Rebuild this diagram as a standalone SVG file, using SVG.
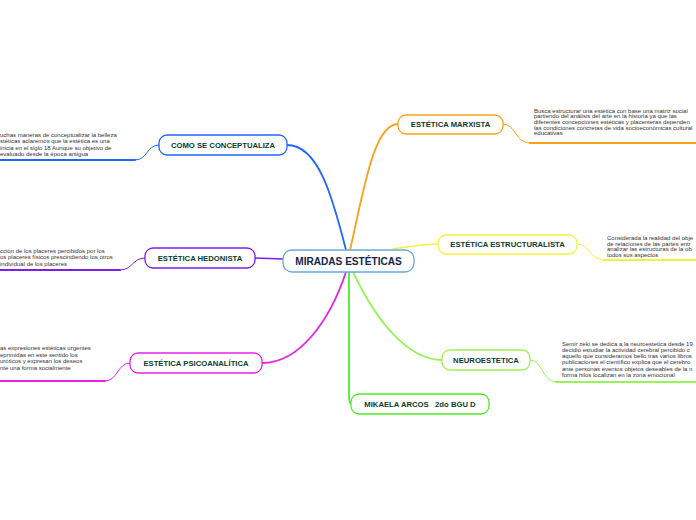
<svg xmlns="http://www.w3.org/2000/svg" width="696" height="520" viewBox="0 0 696 520">
<style>
.lbl{font-family:"Liberation Sans",Arial,sans-serif;font-weight:bold;font-size:7.7px;fill:#0d3b2e;text-anchor:middle}
.main{font-family:"Liberation Sans",Arial,sans-serif;font-weight:bold;font-size:10.1px;fill:#13254a;text-anchor:middle}
.note{font-family:"Liberation Sans",Arial,sans-serif;font-size:6px;fill:#333}
.box{fill:#fff;stroke-width:1.3}
.c{fill:none;stroke-linecap:round}
</style>
<rect width="696" height="520" fill="#fff"/>
<g id="connectors">
<path class="c" d="M346,250 C332,195 318,145 287,145" stroke="#2266ff" stroke-width="1.8"/>
<path class="c" d="M350,250 C363,195 373,124 398,124" stroke="#f7a21b" stroke-width="1.8"/>
<path class="c" d="M346,272 C330,320 300,363 262,363" stroke="#e424e4" stroke-width="1.8"/>
<path class="c" d="M353,272 C378,325 410,360 442,360" stroke="#9af25a" stroke-width="1.8"/>
<path class="c" d="M349,272 L349,396 Q349,404 352,404" stroke="#4cef2c" stroke-width="1.8"/>
<path class="c" d="M393,249 C410,247 422,244 438,244" stroke="#f2f23a" stroke-width="1.5"/>
<path class="c" d="M283,259 L255,258" stroke="#7a1fe8" stroke-width="1.5"/>
<path class="c" d="M0,160 L135,160" stroke="#2266ff" stroke-width="2"/>
<path class="c" d="M135,160 C148,160 146,145 159,145" stroke="#2266ff" stroke-width="1"/>
<path class="c" d="M0,270 L120,270" stroke="#7a1fe8" stroke-width="2"/>
<path class="c" d="M120,270 C133,270 132,258 145,258" stroke="#7a1fe8" stroke-width="1"/>
<path class="c" d="M0,381 L105,381" stroke="#e424e4" stroke-width="2"/>
<path class="c" d="M105,381 C118,381 117,363 130,363" stroke="#e424e4" stroke-width="1"/>
<path class="c" d="M503,124 C516,124 515,143 530,143" stroke="#f7a21b" stroke-width="1"/>
<path class="c" d="M530,143 L696,143" stroke="#f7a21b" stroke-width="2"/>
<path class="c" d="M577,244 C590,244 590,260 604,260" stroke="#f2f23a" stroke-width="1"/>
<path class="c" d="M604,260 L696,260" stroke="#f2f23a" stroke-width="2"/>
<path class="c" d="M530,360 C543,360 542,382 556,382" stroke="#9af25a" stroke-width="1"/>
<path class="c" d="M556,382 L696,382" stroke="#9af25a" stroke-width="2"/>
</g>
<g id="central">
<rect class="box" x="283" y="250" width="131" height="22" rx="9" stroke="#6aa8e0" stroke-width="1.6"/>
<text class="main" x="348.5" y="264.5">MIRADAS ESTÉTICAS</text>
</g>
<g id="como">
<rect class="box" x="159" y="135" width="128" height="20" rx="8" stroke="#2266ff"/>
<text class="lbl" x="223" y="147.8">COMO SE CONCEPTUALIZA</text>
<text class="note" x="0" y="137">uchas maneras de conceptualizar la belleza</text>
<text class="note" x="0" y="143.3">stéticas aclaremos que la estética es una</text>
<text class="note" x="0" y="149.6"> inicia en el siglo 18 Aunque su objetivo de</text>
<text class="note" x="0" y="155.9">evaluado desde la época antigua</text>
</g>
<g id="hedonista">
<rect class="box" x="145" y="248" width="110" height="20" rx="8" stroke="#7a1fe8"/>
<text class="lbl" x="200" y="260.8">ESTÉTICA HEDONISTA</text>
<text class="note" x="0" y="253">cción de los placeres percibidos por los</text>
<text class="note" x="0" y="259.3">os placeres físicos prescindiendo los otros</text>
<text class="note" x="0" y="265.6"> individual de los placeres</text>
</g>
<g id="psicoanalitica">
<rect class="box" x="130" y="353" width="132" height="20" rx="8" stroke="#e424e4"/>
<text class="lbl" x="196" y="365.8">ESTÉTICA PSICOANALÍTICA</text>
<text class="note" x="0" y="350">as expresiones estéticas urgentes</text>
<text class="note" x="0" y="356.5">eprimidas en este sentido los</text>
<text class="note" x="0" y="363">uróticos y expresan los deseos</text>
<text class="note" x="0" y="369.5">nte una forma socialmente</text>
</g>
<g id="marxista">
<rect class="box" x="398" y="115" width="105" height="19" rx="8" stroke="#f7a21b"/>
<text class="lbl" x="450.5" y="127.3">ESTÉTICA MARXISTA</text>
<text class="note" x="534" y="112.5">Busca estructurar una estética con base una matriz social</text>
<text class="note" x="534" y="118.2">partiendo del análisis del arte en la historia ya que las</text>
<text class="note" x="534" y="123.9">diferentes concepciones estéticas y placenteras dependen</text>
<text class="note" x="534" y="129.6">las condiciones concretas de vida socioeconómicas cultural</text>
<text class="note" x="534" y="135.3">educativas</text>
</g>
<g id="estructuralista">
<rect class="box" x="438" y="235" width="139" height="19" rx="8" stroke="#f2f23a"/>
<text class="lbl" x="507.5" y="247.3">ESTÉTICA ESTRUCTURALISTA</text>
<text class="note" x="607" y="240">Considerada la realidad del obje</text>
<text class="note" x="607" y="245.5">de relaciones de las partes entr</text>
<text class="note" x="607" y="251">analizar las estructuras de la ob</text>
<text class="note" x="607" y="256.5">todos sus aspectos</text>
</g>
<g id="neuroestetica">
<rect class="box" x="442" y="350" width="88" height="20" rx="8" stroke="#9af25a"/>
<text class="lbl" x="486" y="362.8">NEUROESTETICA</text>
<text class="note" x="562" y="345.5">Semir zeki se dedica a la neuroestetica desde 19</text>
<text class="note" x="562" y="351.8">decidió estudiar la actividad cerebral percibido c</text>
<text class="note" x="562" y="358.1">aquello que consideramos bello tras varios libros</text>
<text class="note" x="562" y="364.4">publicaciones el científico explica que el cerebro</text>
<text class="note" x="562" y="370.7">ante personas eventos objetos deseables de la n</text>
<text class="note" x="562" y="377">forma hilos localizan en la zona emocional</text>
</g>
<g id="mikaela">
<rect class="box" x="351" y="394" width="138" height="20" rx="8" stroke="#4cef2c"/>
<text class="lbl" x="420" y="406.8" xml:space="preserve">MIKAELA ARCOS   2do BGU D</text>
</g>
</svg>
